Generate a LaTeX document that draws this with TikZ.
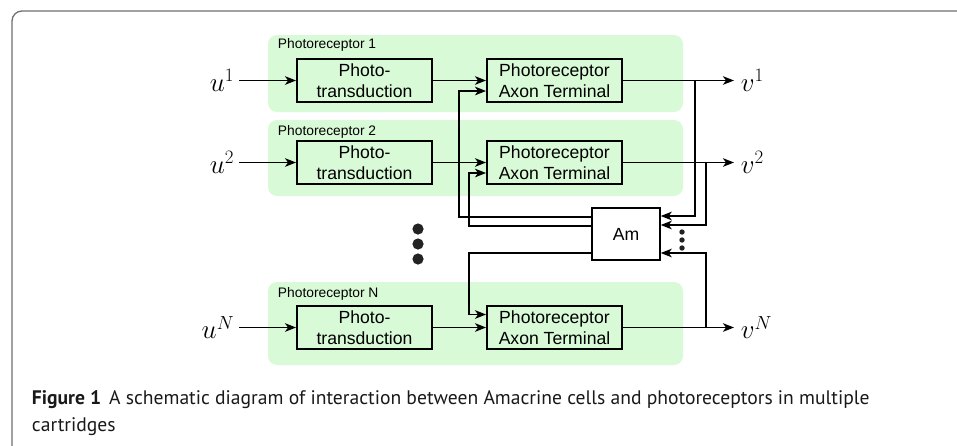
\RequirePackage{fix-cm}
\documentclass[tikz,border=0pt]{standalone}
\usepackage{fontspec}
\newfontfamily\arialf{Liberation Sans}
\newfontfamily\capfont{PT Sans}
\usetikzlibrary{arrows.meta}
\definecolor{pgreen}{RGB}{217,250,215}
\definecolor{framegray}{RGB}{110,110,110}
\definecolor{dotgray}{RGB}{35,35,35}
\begin{document}
\begin{tikzpicture}[x=1pt,y=-1pt,line width=1.9pt,
  >={Stealth[length=11pt,width=8.5pt,inset=3pt]},
  bgpanel/.style={fill=pgreen,rounded corners=9pt},
  blk/.style={draw,fill=pgreen,line width=1.9pt,minimum width=135pt,minimum height=43pt,inner sep=0pt,align=center,font=\arialf\fontsize{17.6}{21.5}\selectfont},
  amblk/.style={draw,fill=white,line width=1.4pt,minimum width=68pt,minimum height=52pt,inner sep=0pt,font=\arialf\fontsize{17.6}{21.5}\selectfont},
  plabel/.style={font=\arialf\fontsize{13.8}{16}\selectfont,anchor=base west,inner sep=0pt},
  inlbl/.style={font=\fontsize{27}{32}\selectfont,inner sep=0pt,anchor=east},
  outlbl/.style={font=\fontsize{27}{32}\selectfont,inner sep=0pt,anchor=west},
  capline/.style={font=\capfont\fontsize{19.6}{22}\selectfont,anchor=base west,inner sep=0pt,text=black!90}]
\useasboundingbox (0,0) rectangle (957,445);
% frame
\draw[framegray,line width=1.3pt,rounded corners=10pt] (12,446) -- (12,11) -- (958,11);
% panels
\fill[bgpanel] (268,35) rectangle (683,112);
\fill[bgpanel] (268,120) rectangle (683,196);
\fill[bgpanel] (268,282) rectangle (683,365);
\node[plabel] (l1) at (277,48) {Photoreceptor 1};
\node[plabel] (l2) at (277,135) {Photoreceptor 2};
\node[plabel] (lN) at (277,297) {Photoreceptor N};
% blocks
\node[blk] (p1) at (364.5,80.5) {Photo-\\transduction};
\node[blk] (a1) at (554.5,80.5) {Photoreceptor\\Axon Terminal};
\node[blk] (p2) at (364.5,162.5) {Photo-\\transduction};
\node[blk] (a2) at (554.5,162.5) {Photoreceptor\\Axon Terminal};
\node[blk] (pN) at (364.5,327.5) {Photo-\\transduction};
\node[blk] (aN) at (554.5,327.5) {Photoreceptor\\Axon Terminal};
\node[amblk] (am) at (626,234) {Am};
% labels
\node[inlbl] (u1) at (235,80.5) {$u^1$};
\node[inlbl] (u2) at (235,162.5) {$u^2$};
\node[inlbl] (uN) at (235,327.5) {$u^N$};
\node[outlbl] (v1) at (740,80.5) {$v^1$};
\node[outlbl] (v2) at (740,162.5) {$v^2$};
\node[outlbl] (vN) at (740,327.5) {$v^N$};
% inputs
\draw[->] ([xshift=4pt]u1.east) -- (p1.west);
\draw[->] ([xshift=4pt]u2.east) -- (p2.west);
\draw[->] ([xshift=4pt]uN.east) -- (pN.west);
\draw[->] (p1.east) -- (a1.west);
\draw[->] (p2.east) -- (a2.west);
\draw[->] (pN.east) -- (aN.west);
% outputs
\draw[->] (a1.east) -- ([xshift=-6pt]v1.west);
\draw[->] (a2.east) -- ([xshift=-6pt]v2.west);
\draw[->] (aN.east) -- ([xshift=-6pt]vN.west);
% feedback from Am
\draw[->] ([yshift=17pt]am.west) -| ([xshift=-27pt,yshift=-10.5pt]a1.west) -- ([yshift=-10.5pt]a1.west);
\draw[->] ([yshift=8pt]am.west) -| ([xshift=-17pt,yshift=-10.5pt]a2.west) -- ([yshift=-10.5pt]a2.west);
\draw[->] ([yshift=-19pt]am.west) -| ([xshift=-17pt,yshift=13pt]aN.west) -- ([yshift=13pt]aN.west);
% into Am
\draw[->] ([xshift=72pt]a1.east) |- ([yshift=18pt]am.east);
\draw[->] ([xshift=83pt]a2.east) |- ([yshift=9pt]am.east);
\draw[->] ([xshift=83pt]aN.east) |- ([yshift=-19pt]am.east);
% dots
\fill[dotgray] (418,229) circle (5.6) (418,244) circle (5.6) (418,259) circle (5.6);
\fill[dotgray] (682,232) circle (2.7) (682,240) circle (2.7) (682,248) circle (2.7);
% caption
\node[capline] (c1) at (31,404) {\textbf{Figure 1}\hspace{8pt}A schematic diagram of interaction between Amacrine cells and photoreceptors in multiple};
\node[capline] (c2) at (31,431) {cartridges};
\end{tikzpicture}
\end{document}
